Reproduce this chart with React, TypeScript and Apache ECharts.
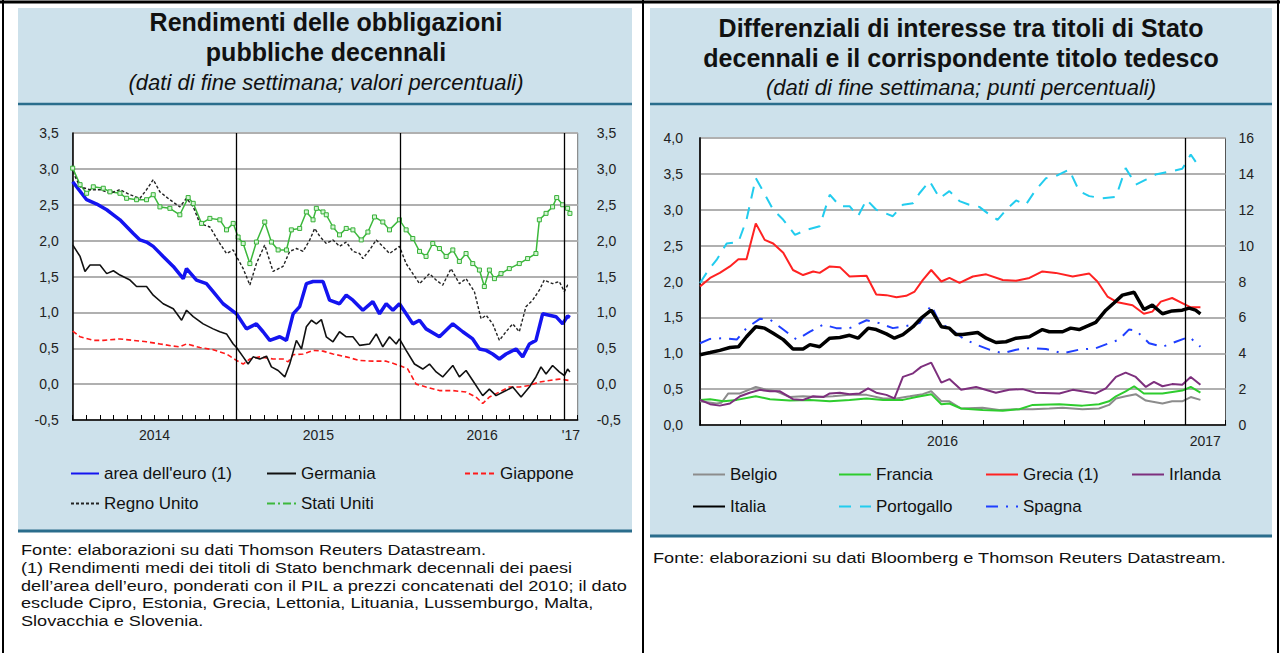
import React, { useEffect, useRef } from "react";
import * as echarts from "echarts";

const FONT = "'Liberation Sans', Arial, Helvetica, sans-serif";

// ---------- Left chart: x = months since January 2014 ----------
const euroArea: [number, number][] = [
  [0, 2.82], [1.02, 2.57], [1.76, 2.51], [2.49, 2.43], [2.98, 2.36], [3.46, 2.29], [4.44, 2.1], [4.93, 2.01],
  [5.41, 1.98], [5.9, 1.92], [6.63, 1.78], [7.37, 1.64], [8.1, 1.47], [8.34, 1.61], [9.07, 1.45], [9.8, 1.4],
  [10.29, 1.29], [11.02, 1.12], [12.0, 0.98], [12.73, 0.77], [13.46, 0.84], [13.95, 0.73], [14.44, 0.61],
  [15.17, 0.66], [15.66, 0.61], [16.15, 0.98], [16.63, 1.08], [17.12, 1.4], [17.61, 1.43], [18.34, 1.43],
  [18.82, 1.17], [19.55, 1.12], [20.04, 1.24], [20.53, 1.17], [21.26, 1.03], [21.99, 1.15], [22.48, 0.98],
  [22.97, 1.12], [23.46, 1.03], [23.94, 1.12], [24.43, 0.98], [24.92, 0.84], [25.41, 0.89], [25.89, 0.77],
  [26.87, 0.66], [27.85, 0.84], [28.58, 0.73], [29.31, 0.63], [29.8, 0.49], [30.29, 0.47], [30.77, 0.42],
  [31.26, 0.35], [31.75, 0.42], [32.48, 0.49], [32.97, 0.38], [33.46, 0.56], [33.94, 0.61], [34.43, 0.98],
  [34.92, 0.96], [35.41, 0.94], [35.9, 0.84], [36.26, 0.95], [36.43, 0.93],
];
const germany: [number, number][] = [
  [0, 1.94], [0.54, 1.78], [0.9, 1.57], [1.27, 1.66], [2.0, 1.66], [2.49, 1.54], [2.98, 1.58], [3.46, 1.52],
  [4.2, 1.45], [4.68, 1.36], [5.41, 1.36], [5.9, 1.24], [6.63, 1.12], [7.37, 1.05], [7.98, 0.89], [8.34, 1.03],
  [8.83, 0.94], [9.56, 0.84], [10.29, 0.77], [10.78, 0.73], [11.27, 0.7], [11.76, 0.56], [12.0, 0.51],
  [12.49, 0.38], [12.85, 0.28], [13.22, 0.38], [13.71, 0.35], [14.2, 0.39], [14.56, 0.24], [15.05, 0.19],
  [15.54, 0.1], [15.9, 0.28], [16.39, 0.61], [16.76, 0.49], [17.12, 0.8], [17.49, 0.89], [17.85, 0.84],
  [18.22, 0.9], [18.58, 0.66], [19.07, 0.59], [19.55, 0.73], [20.04, 0.66], [20.53, 0.66], [21.02, 0.54],
  [21.75, 0.56], [22.24, 0.7], [22.72, 0.52], [23.21, 0.66], [23.7, 0.56], [23.94, 0.63], [24.43, 0.47],
  [25.04, 0.28], [25.65, 0.21], [26.14, 0.28], [26.63, 0.17], [27.11, 0.1], [27.85, 0.26], [28.33, 0.1],
  [28.82, 0.19], [29.31, 0.05], [30.04, -0.16], [30.53, -0.07], [31.02, -0.16], [31.75, -0.09], [32.24, -0.04],
  [32.85, -0.18], [33.46, -0.04], [33.94, 0.1], [34.31, 0.24], [34.68, 0.14], [35.16, 0.26], [35.65, 0.17],
  [36.02, 0.12], [36.26, 0.21], [36.43, 0.17],
];
const japan: [number, number][] = [
  [0, 0.74], [0.54, 0.66], [1.51, 0.61], [2.24, 0.61], [3.46, 0.63], [4.44, 0.61], [5.41, 0.59], [6.39, 0.56],
  [7.37, 0.53], [7.85, 0.52], [8.34, 0.56], [9.32, 0.51], [10.29, 0.48], [11.27, 0.42], [12.0, 0.33],
  [12.49, 0.28], [12.98, 0.35], [13.71, 0.38], [14.68, 0.35], [15.41, 0.35], [15.78, 0.31], [16.15, 0.41],
  [16.88, 0.42], [17.61, 0.47], [18.34, 0.46], [19.07, 0.42], [20.04, 0.38], [21.02, 0.33], [21.99, 0.32],
  [22.97, 0.32], [23.94, 0.26], [24.55, 0.21], [25.16, 0.0], [25.89, -0.04], [26.87, -0.09], [27.85, -0.09],
  [28.82, -0.11], [29.55, -0.18], [30.04, -0.27], [30.53, -0.18], [31.26, -0.11], [31.99, -0.04],
  [32.72, -0.04], [33.46, -0.02], [34.19, 0.03], [34.92, 0.05], [35.65, 0.07], [36.43, 0.05],
];
const unitedKingdom: [number, number][] = [
  [0, 2.96], [0.54, 2.75], [1.27, 2.71], [2.0, 2.71], [2.73, 2.66], [3.46, 2.71], [4.2, 2.64], [4.93, 2.59],
  [5.41, 2.71], [5.9, 2.85], [6.39, 2.68], [7.12, 2.57], [7.85, 2.47], [8.34, 2.59], [8.83, 2.47], [9.32, 2.24],
  [10.05, 2.19], [10.78, 1.96], [11.27, 1.82], [11.76, 1.87], [12.0, 1.78], [12.49, 1.61], [12.98, 1.38],
  [13.46, 1.68], [14.07, 1.94], [14.68, 1.57], [15.41, 1.64], [15.9, 1.85], [16.39, 1.89], [16.88, 1.85],
  [17.37, 2.01], [17.73, 2.17], [18.1, 2.06], [18.58, 1.96], [19.07, 2.01], [19.55, 1.92], [20.04, 1.98],
  [20.53, 1.85], [21.02, 1.82], [21.26, 1.75], [21.75, 1.87], [22.24, 2.01], [22.72, 1.92], [23.21, 1.82],
  [23.94, 1.92], [24.43, 1.68], [24.92, 1.54], [25.41, 1.4], [26.14, 1.54], [26.63, 1.45], [27.11, 1.38],
  [27.72, 1.61], [28.33, 1.4], [28.82, 1.47], [29.43, 1.29], [29.92, 0.91], [30.29, 0.96], [30.77, 0.84],
  [31.26, 0.61], [31.75, 0.73], [32.24, 0.84], [32.72, 0.73], [33.21, 1.08], [33.7, 1.17], [34.19, 1.31],
  [34.55, 1.45], [35.16, 1.4], [35.65, 1.43], [36.02, 1.29], [36.26, 1.38], [36.43, 1.38],
];
const unitedStates: [number, number][] = [
  [0, 3.01], [0.54, 2.78], [1.02, 2.66], [1.51, 2.75], [2.24, 2.73], [2.73, 2.68], [3.46, 2.66], [3.95, 2.59],
  [4.68, 2.57], [5.41, 2.57], [5.9, 2.64], [6.39, 2.47], [7.12, 2.45], [7.85, 2.36], [8.46, 2.6], [8.83, 2.52],
  [9.44, 2.24], [10.05, 2.31], [10.78, 2.29], [11.27, 2.15], [11.76, 2.24], [12.12, 2.05], [12.49, 1.96],
  [12.98, 1.68], [13.46, 1.98], [14.07, 2.26], [14.56, 1.98], [15.05, 1.87], [15.66, 1.87], [16.02, 2.15],
  [16.63, 2.17], [17.12, 2.4], [17.61, 2.29], [17.85, 2.45], [18.34, 2.4], [18.58, 2.36], [19.07, 2.19],
  [19.55, 2.08], [20.04, 2.17], [20.53, 2.15], [21.14, 2.01], [21.63, 2.12], [22.11, 2.33], [22.72, 2.26],
  [23.21, 2.15], [23.94, 2.29], [24.43, 2.15], [24.92, 2.03], [25.41, 1.85], [25.89, 1.78], [26.38, 1.96],
  [26.87, 1.89], [27.36, 1.78], [27.85, 1.87], [28.33, 1.71], [28.82, 1.82], [29.31, 1.68], [29.8, 1.59],
  [30.16, 1.36], [30.53, 1.59], [30.9, 1.47], [31.38, 1.54], [31.99, 1.61], [32.72, 1.68], [33.33, 1.75],
  [33.94, 1.82], [34.19, 2.29], [34.68, 2.38], [35.16, 2.47], [35.46, 2.6], [35.9, 2.5], [36.26, 2.45],
  [36.43, 2.38],
];
const leftYearTicks = [6, 18, 30, 36.5];
const leftYearLabels = ["2014", "2015", "2016", "'17"];
const leftYearLines = [12, 24, 36];

// ---------- Right chart: x = months since January 2016 ----------
const belgium: [number, number][] = [
  [0, 0.33], [0.41, 0.3], [0.53, 0.31], [0.7, 0.44], [0.99, 0.44], [1.38, 0.53], [1.65, 0.49], [1.89, 0.47],
  [2.22, 0.39], [2.55, 0.4], [2.88, 0.39], [3.29, 0.4], [3.7, 0.42], [4.12, 0.42], [4.53, 0.37], [4.86, 0.37],
  [5.19, 0.4], [5.51, 0.43], [5.72, 0.47], [5.97, 0.33], [6.17, 0.33], [6.46, 0.23], [6.99, 0.24], [7.4, 0.21],
  [7.82, 0.22], [8.23, 0.22], [8.64, 0.23], [8.97, 0.24], [9.46, 0.22], [9.87, 0.23], [10.12, 0.28],
  [10.29, 0.37], [10.53, 0.4], [10.78, 0.43], [11.03, 0.34], [11.44, 0.3], [11.68, 0.33], [11.93, 0.33],
  [12.14, 0.39], [12.38, 0.35],
];
const france: [number, number][] = [
  [0, 0.35], [0.25, 0.36], [0.58, 0.33], [0.91, 0.35], [1.38, 0.4], [1.73, 0.36], [2.22, 0.34], [2.72, 0.35],
  [3.21, 0.33], [3.7, 0.35], [4.12, 0.37], [4.53, 0.35], [5.02, 0.35], [5.35, 0.39], [5.72, 0.43], [5.97, 0.29],
  [6.17, 0.3], [6.46, 0.23], [6.99, 0.21], [7.49, 0.2], [7.9, 0.22], [8.23, 0.28], [8.89, 0.29], [9.46, 0.27],
  [9.87, 0.29], [10.12, 0.33], [10.29, 0.4], [10.53, 0.47], [10.74, 0.54], [10.98, 0.44], [11.44, 0.44],
  [11.93, 0.48], [12.14, 0.53], [12.38, 0.45],
];
// Greece is read on the right-hand scale
const greece: [number, number][] = [
  [0, 7.72], [0.25, 8.2], [0.49, 8.48], [0.74, 8.84], [0.95, 9.24], [1.15, 9.24], [1.38, 11.24], [1.6, 10.32],
  [1.81, 10.12], [2.06, 9.6], [2.3, 8.64], [2.55, 8.36], [2.8, 8.56], [2.96, 8.48], [3.21, 8.84], [3.46, 8.8],
  [3.7, 8.28], [4.12, 8.32], [4.36, 7.28], [4.61, 7.24], [4.86, 7.12], [5.1, 7.2], [5.31, 7.44], [5.51, 8.08],
  [5.72, 8.64], [5.97, 8.0], [6.17, 8.2], [6.42, 7.92], [6.75, 8.28], [7.08, 8.4], [7.49, 8.08], [7.82, 8.04],
  [8.15, 8.2], [8.47, 8.56], [8.8, 8.48], [9.22, 8.28], [9.63, 8.44], [9.83, 8.0], [10.08, 7.16], [10.33, 6.84],
  [10.7, 6.68], [10.98, 6.2], [11.19, 6.32], [11.4, 6.88], [11.68, 7.08], [11.93, 6.8], [12.14, 6.56],
  [12.38, 6.56],
];
const ireland: [number, number][] = [
  [0, 0.35], [0.25, 0.29], [0.49, 0.27], [0.74, 0.3], [0.99, 0.4], [1.23, 0.45], [1.48, 0.49], [1.73, 0.47],
  [1.98, 0.47], [2.3, 0.36], [2.55, 0.35], [2.8, 0.4], [3.05, 0.39], [3.21, 0.44], [3.46, 0.45], [3.7, 0.43],
  [3.95, 0.44], [4.16, 0.51], [4.36, 0.45], [4.61, 0.42], [4.81, 0.37], [5.02, 0.67], [5.27, 0.72],
  [5.47, 0.81], [5.72, 0.87], [5.97, 0.59], [6.17, 0.64], [6.46, 0.49], [6.83, 0.53], [7.32, 0.45],
  [7.65, 0.49], [7.98, 0.5], [8.31, 0.45], [8.89, 0.44], [9.22, 0.49], [9.79, 0.44], [10.04, 0.51],
  [10.29, 0.67], [10.53, 0.73], [10.78, 0.67], [11.03, 0.53], [11.23, 0.6], [11.44, 0.54], [11.68, 0.57],
  [11.93, 0.56], [12.14, 0.67], [12.38, 0.56],
];
const italy: [number, number][] = [
  [0, 0.98], [0.25, 1.01], [0.49, 1.04], [0.74, 1.08], [0.95, 1.09], [1.15, 1.23], [1.38, 1.37], [1.6, 1.35],
  [1.81, 1.28], [2.06, 1.19], [2.3, 1.06], [2.55, 1.06], [2.72, 1.12], [2.96, 1.09], [3.21, 1.21], [3.46, 1.22],
  [3.7, 1.25], [3.91, 1.21], [4.16, 1.35], [4.36, 1.33], [4.61, 1.27], [4.81, 1.21], [5.02, 1.26], [5.27, 1.37],
  [5.47, 1.49], [5.72, 1.6], [5.97, 1.37], [6.17, 1.35], [6.33, 1.26], [6.5, 1.26], [6.87, 1.29], [7.08, 1.21],
  [7.32, 1.15], [7.57, 1.16], [7.82, 1.21], [8.15, 1.23], [8.47, 1.33], [8.64, 1.3], [8.97, 1.3], [9.17, 1.35],
  [9.38, 1.33], [9.79, 1.43], [10.04, 1.6], [10.24, 1.7], [10.45, 1.81], [10.74, 1.85], [10.98, 1.61],
  [11.19, 1.67], [11.44, 1.55], [11.68, 1.59], [11.93, 1.6], [12.1, 1.63], [12.26, 1.6], [12.38, 1.55],
];
const portugal: [number, number][] = [
  [0, 1.98], [0.21, 2.16], [0.41, 2.3], [0.66, 2.53], [0.95, 2.55], [1.15, 2.86], [1.38, 3.44], [1.56, 3.26],
  [1.81, 3.0], [2.06, 2.86], [2.35, 2.65], [2.63, 2.72], [2.96, 2.77], [3.21, 3.21], [3.46, 3.05], [3.7, 3.05],
  [3.91, 2.91], [4.12, 3.14], [4.36, 3.0], [4.77, 2.91], [5.02, 3.07], [5.27, 3.09], [5.43, 3.23], [5.68, 3.4],
  [5.93, 3.16], [6.17, 3.26], [6.42, 3.12], [6.66, 3.07], [6.91, 3.04], [7.12, 2.95], [7.36, 2.86], [7.61, 3.02],
  [7.82, 3.13], [8.06, 3.07], [8.31, 3.28], [8.56, 3.44], [8.8, 3.47], [9.13, 3.56], [9.38, 3.26], [9.63, 3.19],
  [9.96, 3.16], [10.29, 3.18], [10.53, 3.58], [10.78, 3.35], [11.03, 3.42], [11.27, 3.49], [11.6, 3.53],
  [11.93, 3.57], [12.14, 3.77], [12.38, 3.57],
];
const spain: [number, number][] = [
  [0, 1.14], [0.25, 1.2], [0.58, 1.21], [0.91, 1.19], [1.15, 1.35], [1.48, 1.48], [1.73, 1.47], [2.06, 1.33],
  [2.39, 1.19], [2.72, 1.3], [3.05, 1.4], [3.37, 1.35], [3.7, 1.35], [4.12, 1.46], [4.44, 1.42], [4.77, 1.35],
  [5.1, 1.38], [5.43, 1.42], [5.72, 1.67], [5.93, 1.42], [6.17, 1.35], [6.5, 1.21], [6.83, 1.12], [7.16, 1.05],
  [7.49, 1.0], [7.82, 1.05], [8.15, 1.07], [8.56, 1.06], [8.97, 1.0], [9.38, 1.05], [9.79, 1.07], [10.12, 1.14],
  [10.37, 1.19], [10.61, 1.33], [10.78, 1.32], [11.11, 1.14], [11.44, 1.09], [11.77, 1.16], [12.1, 1.23],
  [12.38, 1.09],
];
const rightYearTicks = [6, 12.5];
const rightYearLabels = ["2016", "2017"];
const rightYearLines = [12];

const leftTitle = ["Rendimenti delle obbligazioni", "pubbliche decennali"];
const leftSubtitle = "(dati di fine settimana; valori percentuali)";
const rightTitle = ["Differenziali di interesse tra titoli di Stato", "decennali e il corrispondente titolo tedesco"];
const rightSubtitle = "(dati di fine settimana; punti percentuali)";
const leftNotes = [
  "Fonte: elaborazioni su dati Thomson Reuters Datastream.",
  "(1) Rendimenti medi dei titoli di Stato benchmark decennali dei paesi",
  "dell’area dell’euro, ponderati con il PIL a prezzi concatenati del 2010; il dato",
  "esclude Cipro, Estonia, Grecia, Lettonia, Lituania, Lussemburgo, Malta,",
  "Slovacchia e Slovenia.",
];
const rightNote = "Fonte: elaborazioni su dati Bloomberg e Thomson Reuters Datastream.";

const PANEL = "#cde1eb";
const TEAL = "#2a6d8c";
const GRID_LINE = "#b0b0b0";

const fmtDec = (v: number) => v.toFixed(1).replace(".", ",");
const yearFormatter = (ticks: number[], labels: string[]) => (v: number) => {
  const i = ticks.findIndex((t) => Math.abs(t - v) < 1e-6);
  return i >= 0 ? labels[i] : "";
};

function line(name: string, data: [number, number][], xi: number, yi: number, color: string, width: number, type: any, extra: any = {}) {
  return {
    type: "line",
    name,
    data,
    xAxisIndex: xi,
    yAxisIndex: yi,
    symbol: "none",
    showSymbol: false,
    silent: true,
    lineStyle: { color, width, type },
    itemStyle: { color },
    ...extra,
  };
}

function vLines(values: number[]) {
  return {
    silent: true,
    symbol: "none",
    label: { show: false },
    lineStyle: { color: "#000", width: 1.3, type: "solid" },
    data: values.map((v) => ({ xAxis: v })),
  };
}

function legendItem(name: string, left: number, top: number, w: number, extra: any = {}) {
  return {
    data: [name],
    left,
    top,
    padding: 0,
    itemWidth: w,
    itemHeight: 12,
    selectedMode: false,
    itemStyle: { opacity: 0 },
    textStyle: { fontSize: 17, color: "#111", fontFamily: FONT },
    ...extra,
  };
}

function text(t: string, x: number, y: number, font: string, align = "left", scaleX = 1) {
  return {
    type: "text",
    silent: true,
    x,
    y,
    scaleX,
    style: {
      text: t, x: 0, y: 0, font, fill: "#111",
      align, verticalAlign: "middle", textAlign: align, textVerticalAlign: "middle",
    },
  };
}
function hline(x1: number, x2: number, y: number, color: string, w: number) {
  return { type: "line", silent: true, shape: { x1, y1: y, x2, y2: y }, style: { stroke: color, lineWidth: w } };
}
function vline(x: number, y1: number, y2: number, color: string, w: number) {
  return { type: "line", silent: true, shape: { x1: x, y1, x2: x, y2 }, style: { stroke: color, lineWidth: w } };
}

export default function App() {
  const ref = useRef<HTMLDivElement>(null);
  useEffect(() => {
    const chart = echarts.init(ref.current!, null, { renderer: "svg" });
    const titleFont = `bold 25px ${FONT}`;
    const subFont = `italic 22px ${FONT}`;
    const noteFont = `15.5px ${FONT}`;
    const NOTE_SCALE = 1.17;
    const axisLbl = { fontSize: 14, color: "#222", fontFamily: FONT };

    const xMain = (grid: number, max: number) => ({
      gridIndex: grid, type: "value", min: 0, max, interval: 1, position: "bottom",
      axisLine: { show: true, onZero: false, lineStyle: { color: "#000", width: 1.5 } },
      axisTick: { show: true, inside: true, length: 5, lineStyle: { color: "#000", width: 1 } },
      axisLabel: { show: false }, splitLine: { show: false },
    });
    const xLabels = (grid: number, max: number, ticks: number[], labels: string[], margin: number) => ({
      gridIndex: grid, type: "value", min: 0, max, interval: 0.5, position: "bottom", offset: 0,
      axisLine: { show: false, onZero: false }, axisTick: { show: false }, splitLine: { show: false },
      axisLabel: { ...axisLbl, margin, formatter: yearFormatter(ticks, labels), showMinLabel: true, showMaxLabel: true },
    });

    chart.setOption({
      animation: false,
      textStyle: { fontFamily: FONT },
      grid: [
        { left: 72.7, top: 133, width: 505, height: 287, show: true, backgroundColor: "#fff", borderColor: "#777", borderWidth: 1 },
        { left: 700, top: 138, width: 525.5, height: 287, show: true, backgroundColor: "#fff", borderColor: "#555", borderWidth: 1 },
      ],
      xAxis: [
        xMain(0, 37),
        xLabels(0, 37, leftYearTicks, leftYearLabels, 8),
        xMain(1, 13),
        xLabels(1, 13, rightYearTicks, rightYearLabels, 9),
      ],
      yAxis: [
        {
          gridIndex: 0, type: "value", min: -0.5, max: 3.5, interval: 0.5, position: "left",
          axisLine: { show: true, lineStyle: { color: "#000", width: 1.5 } }, axisTick: { show: false },
          axisLabel: { ...axisLbl, margin: 14, formatter: fmtDec },
          splitLine: { show: true, lineStyle: { color: GRID_LINE, width: 2 } },
        },
        {
          gridIndex: 0, type: "value", min: -0.5, max: 3.5, interval: 0.5, position: "right",
          axisLine: { show: false }, axisTick: { show: false }, splitLine: { show: false },
          axisLabel: { ...axisLbl, margin: 19, formatter: fmtDec },
        },
        {
          gridIndex: 1, type: "value", min: 0, max: 4, interval: 0.5, position: "left",
          axisLine: { show: true, lineStyle: { color: "#000", width: 1.5 } }, axisTick: { show: false },
          axisLabel: { ...axisLbl, margin: 17, formatter: fmtDec },
          splitLine: { show: true, lineStyle: { color: GRID_LINE, width: 2 } },
        },
        {
          gridIndex: 1, type: "value", min: 0, max: 16, interval: 2, position: "right",
          axisLine: { show: true, lineStyle: { color: "#222", width: 1.5 } }, axisTick: { show: false }, splitLine: { show: false },
          axisLabel: { ...axisLbl, margin: 13, formatter: (v: number) => String(v) },
        },
      ],
      legend: [
        legendItem("area dell'euro (1)", 70, 465, 28),
        legendItem("Germania", 266, 465, 29),
        legendItem("Giappone", 464, 465, 30),
        legendItem("Regno Unito", 70, 495, 28),
        legendItem("Stati Uniti", 266, 495, 29, { lineStyle: { type: [8, 3, 2, 3] } }),
        legendItem("Belgio", 692, 466, 32),
        legendItem("Francia", 838, 466, 32),
        legendItem("Grecia (1)", 985, 466, 32),
        legendItem("Irlanda", 1131, 466, 32),
        legendItem("Italia", 692, 498, 32),
        legendItem("Portogallo", 838, 498, 32),
        legendItem("Spagna", 985, 498, 32),
      ],
      series: [
        line("Stati Uniti", unitedStates, 0, 0, "#3cb83c", 1.5, "solid", {
          symbol: "rect", showSymbol: true, symbolSize: 4,
          itemStyle: { color: "#d6f5d6", borderColor: "#36b036", borderWidth: 1 },
        }),
        line("Regno Unito", unitedKingdom, 0, 0, "#222", 1.4, [3, 2]),
        line("Giappone", japan, 0, 0, "#ff1a1a", 1.6, [5, 3]),
        line("Germania", germany, 0, 0, "#111", 1.6, "solid", { markLine: vLines(leftYearLines) }),
        line("area dell'euro (1)", euroArea, 0, 0, "#1414f0", 3.5, "solid"),

        line("Belgio", belgium, 2, 2, "#8c8c8c", 2, "solid"),
        line("Francia", france, 2, 2, "#2ecc2e", 2, "solid"),
        line("Irlanda", ireland, 2, 2, "#7d2f7d", 2, "solid"),
        line("Spagna", spain, 2, 2, "#1f3fff", 2, [12, 8, 2, 8]),
        line("Portogallo", portugal, 2, 2, "#22ccee", 2, [12, 9]),
        line("Grecia (1)", greece, 2, 3, "#ff2222", 2, "solid"),
        line("Italia", italy, 2, 2, "#000", 3.5, "solid", { markLine: vLines(rightYearLines) }),
      ],
      graphic: [
        { type: "rect", z: -10, silent: true, shape: { x: 18, y: 8, width: 614, height: 523 }, style: { fill: PANEL } },
        { type: "rect", z: -10, silent: true, shape: { x: 650, y: 8, width: 622, height: 528 }, style: { fill: PANEL } },
        hline(18, 632, 104, TEAL, 2.5),
        hline(18, 632, 531, TEAL, 3),
        hline(650, 1272, 104, TEAL, 2.5),
        hline(650, 1272, 536, TEAL, 3),
        hline(0, 1280, 2, "#000", 3),
        vline(3, 0, 653, "#000", 2),
        vline(643, 0, 653, "#000", 2),
        vline(1278, 0, 653, "#000", 2),
        text(leftTitle[0], 326, 22, titleFont, "center"),
        text(leftTitle[1], 326, 52, titleFont, "center"),
        text(leftSubtitle, 326, 82, subFont, "center"),
        text(rightTitle[0], 961, 28, titleFont, "center"),
        text(rightTitle[1], 961, 58, titleFont, "center"),
        text(rightSubtitle, 961, 87, subFont, "center"),
        ...leftNotes.map((t, i) => text(t, 21, 550 + i * 17.8, noteFont, "left", NOTE_SCALE)),
        text(rightNote, 653, 558, noteFont, "left", NOTE_SCALE),
      ],
    });
    return () => chart.dispose();
  }, []);
  return <div ref={ref} style={{ position: "absolute", left: 0, top: 0, width: 1280, height: 653 }} />;
}
